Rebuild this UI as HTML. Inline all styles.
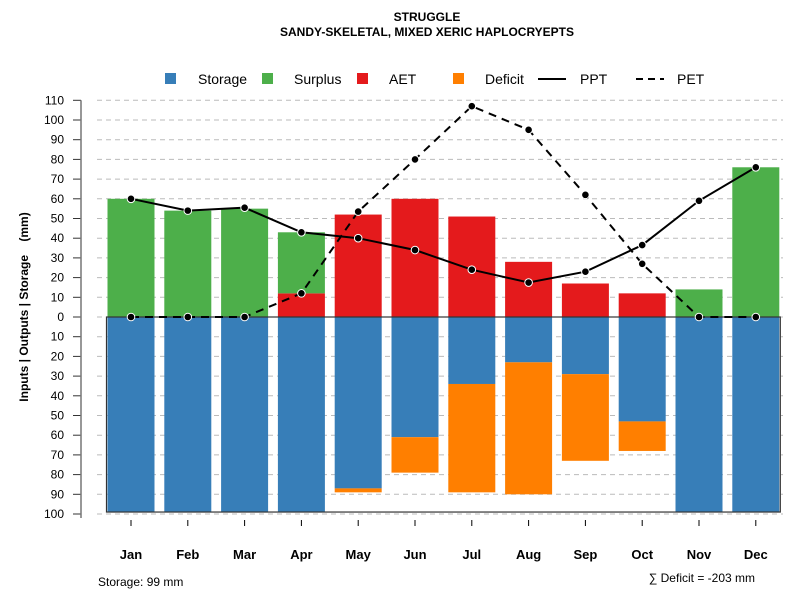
<!DOCTYPE html>
<html><head><meta charset="utf-8"><style>
body{margin:0;background:#fff;font-family:"Liberation Sans",sans-serif}
</style></head><body>
<svg id="chart" width="800" height="600" xmlns="http://www.w3.org/2000/svg" font-family="Liberation Sans, sans-serif">
<text x="427" y="21" text-anchor="middle" font-size="12" font-weight="bold">STRUGGLE</text>
<text x="427" y="36" text-anchor="middle" font-size="12" font-weight="bold">SANDY-SKELETAL, MIXED XERIC HAPLOCRYEPTS</text>
<g id="legend" font-size="14">
<rect x="165" y="73" width="11" height="11" fill="#377eb8"/><text x="198" y="84">Storage</text>
<rect x="262" y="73" width="11" height="11" fill="#4daf4a"/><text x="294" y="84">Surplus</text>
<rect x="357" y="73" width="11" height="11" fill="#e41a1c"/><text x="389" y="84">AET</text>
<rect x="453" y="73" width="11" height="11" fill="#ff7f00"/><text x="485" y="84">Deficit</text>
<line x1="538" y1="79" x2="566" y2="79" stroke="#000" stroke-width="2"/><text x="580" y="84">PPT</text>
<line x1="636" y1="79" x2="664" y2="79" stroke="#000" stroke-width="2" stroke-dasharray="7,5"/><text x="677" y="84">PET</text>
</g>
<g id="grid"></g><g id="bars"></g><g id="lines"></g><g id="axes"></g>
<text transform="translate(28,307) rotate(-90)" text-anchor="middle" font-size="12" font-weight="bold" xml:space="preserve">Inputs | Outputs | Storage    (mm)</text>
<text x="98" y="586" font-size="12">Storage: 99 mm</text>
<text x="755" y="582" text-anchor="end" font-size="12">∑ Deficit = -203 mm</text>
</svg>
<script>
const months=["Jan","Feb","Mar","Apr","May","Jun","Jul","Aug","Sep","Oct","Nov","Dec"];
const aet=[0,0,0,12,52,60,51,28,17,12,0,0];
const surplus=[60,54,55,31,0,0,0,0,0,0,14,76];
const storage=[99,99,99,99,87,61,34,23,29,53,99,99];
const deficit=[0,0,0,0,2,18,55,67,44,15,0,0];
const ppt=[60,54,55.5,43,40,34,24,17.5,23,36.5,59,76];
const pet=[0,0,0,12,53.5,80,107,95,62,27,0,0];
const yTicks=[110,100,90,80,70,60,50,40,30,20,10,0,10,20,30,40,50,60,70,80,90,100];
const yTickVals=[110,100,90,80,70,60,50,40,30,20,10,0,-10,-20,-30,-40,-50,-60,-70,-80,-90,-100];
const NS="http://www.w3.org/2000/svg";
const y=v=>317-v*1.97;
const x=i=>131+i*56.8;
const bw=47;
function mk(t,a,p){const e=document.createElementNS(NS,t);for(const k in a)e.setAttribute(k,a[k]);p.appendChild(e);return e;}
const G=document.getElementById('grid'),B=document.getElementById('bars'),L=document.getElementById('lines'),A=document.getElementById('axes');
yTickVals.forEach((v,i)=>{
 const l=mk('line',{x1:97,x2:783,y1:y(v),y2:y(v),stroke:'#bbb','stroke-dasharray':'5,4'},G);
 
 
 const t=mk('line',{x1:73,x2:81,y1:y(v),y2:y(v),stroke:'#333'},A);
 
 
 const tx=mk('text',{x:64,y:y(v)+4,'text-anchor':'end','font-size':12},A);tx.textContent=yTicks[i];
 
 
});
mk('line',{x1:81,x2:81,y1:y(110),y2:y(-100)+4,stroke:'#777','stroke-width':1.5},A);
months.forEach((m,i)=>{
 const cx=x(i),x0=cx-bw/2;
 const r1=mk('rect',{x:x0,y:y(aet[i]),width:bw,height:aet[i]*1.97,fill:'#e41a1c'},B);
 
 
 const r2=mk('rect',{x:x0,y:y(aet[i]+surplus[i]),width:bw,height:surplus[i]*1.97,fill:'#4daf4a'},B);
 
 
 const r3=mk('rect',{x:x0,y:y(0),width:bw,height:storage[i]*1.97,fill:'#377eb8'},B);
 
 
 const r4=mk('rect',{x:x0,y:y(-storage[i]),width:bw,height:deficit[i]*1.97,fill:'#ff7f00'},B);
 
 
 const t=mk('line',{x1:cx,x2:cx,y1:520,y2:526,stroke:'#000'},A);
 
 
 const tx=mk('text',{x:cx,y:559,'text-anchor':'middle','font-size':13,'font-weight':'bold'},A);tx.textContent=m;
 
 
});
const box=mk('rect',{x:x(0)-bw/2-1,y:y(0),width:x(11)-x(0)+bw+2,height:99*1.97,fill:'none',stroke:'#333','stroke-width':1.2},B);


function series(d,dash,name){
 const p=mk('polyline',{points:d.map((v,i)=>x(i)+','+y(v)).join(' '),fill:'none',stroke:'#000','stroke-width':2,'stroke-dasharray':dash},L);
 
 
 d.forEach((v,i)=>{const c=mk('circle',{cx:x(i),cy:y(v),r:3.8,fill:'#000',stroke:'#fff','stroke-width':1},L);
 
 });
}
series(pet,'8,6','pet');
series(ppt,'none','ppt');
</script>
</body></html>
